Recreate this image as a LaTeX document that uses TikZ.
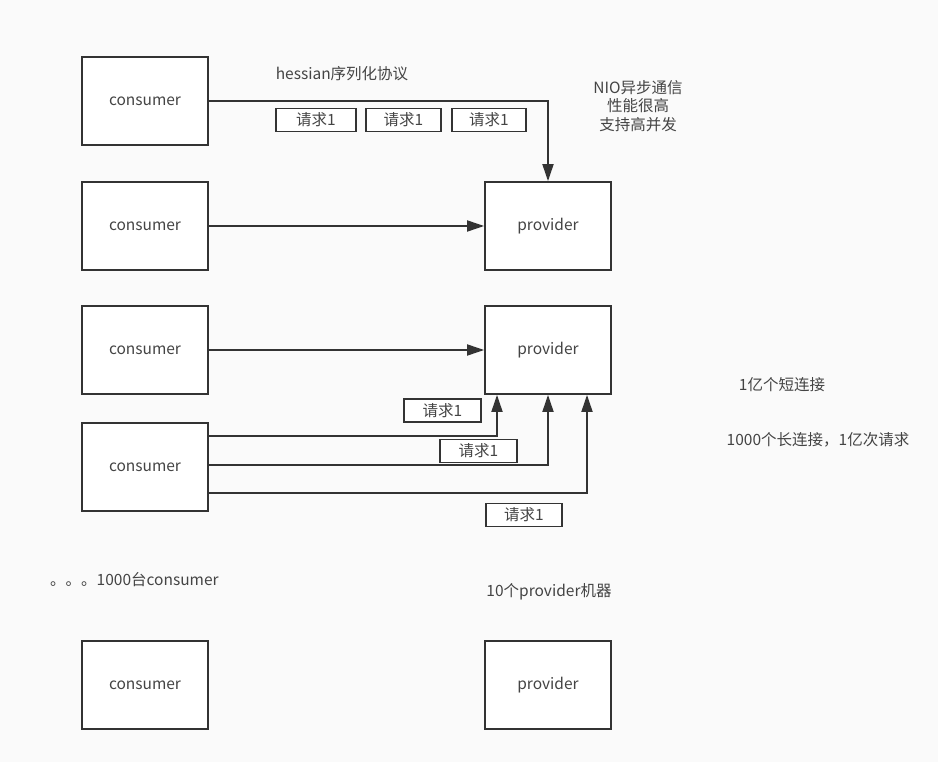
\documentclass[tikz,border=0pt]{standalone}
\usepackage{fontspec}
\setmainfont{Noto Sans CJK SC}
\usetikzlibrary{arrows.meta,calc}
\definecolor{ln}{HTML}{333333}
\definecolor{bg}{HTML}{FAFAFA}
\definecolor{tx}{HTML}{444444}
\begin{document}
\begin{tikzpicture}[x=1pt,y=-1pt,
 box/.style={draw=ln,line width=1.8pt,fill=white,minimum width=126pt,minimum height=88pt,inner sep=0pt,font=\fontsize{15.5}{18}\selectfont,text=tx},
 req/.style={draw=ln,line width=1.8pt,fill=white,minimum width=76pt,minimum height=23pt,inner sep=0pt,font=\fontsize{15.5}{18}\selectfont,text=tx},
 arr/.style={draw=ln,line width=1.8pt,-{Triangle[length=17pt,width=11pt]}},
 lbl/.style={text=tx,font=\fontsize{15.5}{18.5}\selectfont,align=center,inner sep=0pt}]
\fill[bg] (0,0) rectangle (938,762);
\useasboundingbox (0,0) rectangle (938,762);
% consumers
\node[box] (c1) at (145,101) {consumer};
\node[box] (c2) at (145,226) {consumer};
\node[box] (c3) at (145,350) {consumer};
\node[box] (c4) at (145,467) {consumer};
\node[box] (c5) at (145,685) {consumer};
% providers
\node[box] (p1) at (548,226) {provider};
\node[box] (p2) at (548,350) {provider};
\node[box] (p3) at (548,685) {provider};
% connectors
\coordinate (k1) at (548,101);
\draw[arr] (c1.east |- k1) -- (k1) -- (p1.north);
\draw[arr] (c2.east) -- (p1.west);
\draw[arr] (c3.east) -- (p2.west);
\coordinate (a1) at (497,436);
\coordinate (a2) at (548,465);
\coordinate (a3) at (587,493);
\draw[arr] (c4.east |- a1) -- (a1) -- (a1 |- p2.south);
\draw[arr] (c4.east |- a2) -- (a2) -- (a2 |- p2.south);
\draw[arr] (c4.east |- a3) -- (a3) -- (a3 |- p2.south);
% request boxes
\node[req,minimum width=80pt] (r1) at (316,120) {请求1};
\node[req,minimum width=75pt] (r2) at (403.5,120) {请求1};
\node[req,minimum width=74pt] (r3) at (489,120) {请求1};
\node[req,minimum width=77pt] (r4) at (442.5,410.5) {请求1};
\node[req,minimum width=77pt] (r5) at (478.5,451) {请求1};
\node[req,minimum width=76pt] (r6) at (524,515) {请求1};
% labels
\node[lbl] (t1) at (342,74) {hessian序列化协议};
\node[lbl] (t2) at (638,106) {NIO异步通信\\性能很高\\支持高并发};
\node[lbl] (t3) at (782,385) {1亿个短连接};
\node[lbl] (t4) at (818,440) {1000个长连接，1亿次请求};
\node[lbl,anchor=west] (t5) at (50,580) {。。。1000台consumer};
\node[lbl] (t6) at (549,592) {10个provider机器};
\end{tikzpicture}
\end{document}
